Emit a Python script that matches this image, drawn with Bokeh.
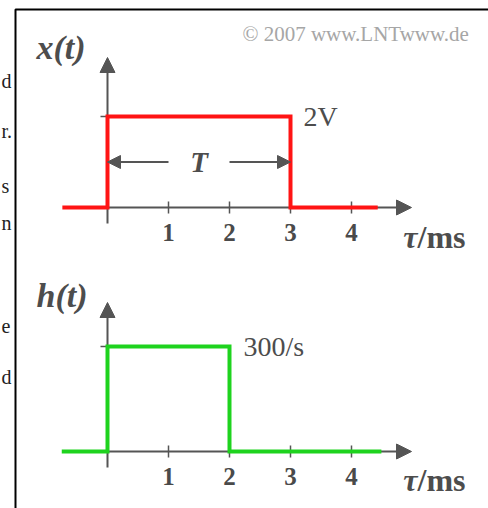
from bokeh.plotting import figure
from bokeh.models import Range1d, LinearAxis, FixedTicker, Arrow, NormalHead, Label
from bokeh.embed import file_html
from bokeh.resources import INLINE

# x(t): rectangular pulse, amplitude 2 V, duration T = 3 ms
x_tau = [-0.74, 0, 0, 3, 3, 4.43]
x_amp = [0, 0, 2, 2, 0, 0]
# h(t): rectangular impulse response, 300/s for 2 ms
h_tau = [-0.75, 0, 0, 2, 2, 4.49]
h_amp = [0, 0, 300, 300, 0, 0]
tick_ms = [1, 2, 3, 4]
x_level = [2]
h_level = [300]
T_ms = 3

W, H = 488, 508
PX_PER_MS = 61.0
X0_PX = 107.0                 # column of tau = 0
TOP_Y0, TOP_SCALE = 207.0, 45.5   # row of x = 0, pixels per volt
BOT_Y0, BOT_SCALE = 451.0, 0.35   # row of h = 0, pixels per 1/s


def tx(px):
    return (px - X0_PX) / PX_PER_MS


def ty(py):
    return (TOP_Y0 - py) / TOP_SCALE


def hy(py):
    return (BOT_Y0 - py) / BOT_SCALE


p = figure(width=W, height=H, output_backend="svg", toolbar_location=None,
           x_range=Range1d(tx(0), tx(W)), y_range=Range1d(ty(H), ty(0)),
           x_axis_type=None, y_axis_type=None, min_border=0)
p.extra_y_ranges = {"h": Range1d(hy(H), hy(0))}
p.outline_line_color = None
p.background_fill_color = "white"
p.border_fill_color = "white"

AX = "#555555"
SERIF = "Liberation Serif"

# page frame
p.line([tx(15), tx(15), tx(700)], [ty(800), ty(9), ty(9)], line_color="black", line_width=2)

# axis lines with arrow heads, kept beneath the signals
def axis_arrow(x0, y0, x1, y1, rname="default"):
    p.add_layout(Arrow(end=NormalHead(size=15, fill_color=AX, line_color=AX),
                       x_start=x0, y_start=y0, x_end=x1, y_end=y1,
                       line_color=AX, line_width=2, y_range_name=rname,
                       level="underlay"))

axis_arrow(0, 0, tx(411), 0)
axis_arrow(0, ty(223), 0, ty(57))
axis_arrow(0, 0, tx(411), 0, "h")
axis_arrow(0, hy(467), 0, hy(302), "h")

# tick marks and labels
for rname in ("default", "h"):
    ax = LinearAxis(ticker=FixedTicker(ticks=tick_ms), fixed_location=0,
                    axis_line_color=None, major_tick_in=6, major_tick_out=6,
                    major_tick_line_color=AX, major_tick_line_width=1.5,
                    minor_tick_line_color=None, major_label_standoff=10,
                    major_label_text_font=SERIF, major_label_text_font_style="bold",
                    major_label_text_font_size="25px", major_label_text_color="#4a4a4a",
                    y_range_name=rname, level="underlay")
    p.add_layout(ax, "below")
    yax = LinearAxis(ticker=FixedTicker(ticks=x_level if rname == "default" else h_level),
                     fixed_location=0, axis_line_color=None, major_tick_in=0,
                     major_tick_out=7, major_tick_line_color=AX, major_tick_line_width=1.5,
                     minor_tick_line_color=None, major_label_text_color=None,
                     y_range_name=rname, level="underlay")
    p.add_layout(yax, "left")

# signals
p.line(x_tau, x_amp, line_color="#ff1414", line_width=4, line_join="miter")
p.line(h_tau, h_amp, line_color="#1ed31e", line_width=4, line_join="miter", y_range_name="h")

# duration arrows
mid = x_amp[2] / 2
for xs, xe in ((1, x_tau[1]), (2, x_tau[3])):
    p.add_layout(Arrow(end=NormalHead(size=13, fill_color=AX, line_color=AX),
                       x_start=xs, y_start=mid, x_end=xe, y_end=mid,
                       line_color=AX, line_width=2))


def label(x, y, text, size="24px", style="bold", color="#4d4d4d", align="left",
          rname="default", x_offset=0):
    p.add_layout(Label(x=x, y=y, text=text, text_font=SERIF, text_font_style=style,
                       text_font_size=size, text_color=color, text_align=align,
                       text_baseline="middle", y_range_name=rname, x_offset=x_offset))


label(T_ms / 2, mid, "T", size="29px", style="bold italic", align="center")
label(x_tau[3], x_amp[3], "2V", size="28px", style="normal", x_offset=13)
label(h_tau[3], h_amp[3], "300/s", size="28px", style="normal", x_offset=14, rname="h")
label(tx(36), ty(47), "x(t)", size="34px", style="bold italic")
label(tx(36), ty(295), "h(t)", size="34px", style="bold italic")
for row in (236, 479):
    label(tx(417), ty(row), "τ", size="32px", style="bold italic", align="right")
    label(tx(417), ty(row), "/ms", size="32px", style="bold")
label(tx(242), ty(33), "© 2007 www.LNTwww.de", size="21px", style="normal", color="#a6a6a6")

# ends of text lines from the neighbouring page column
for row, ch in ((80, "d"), (130, "r."), (185, "s"), (222, "n"), (325, "e"), (376, "d")):
    label(tx(1), ty(row), ch, size="20px", style="normal", color="#222222")

open("out.html", "w").write(file_html(p, INLINE))
